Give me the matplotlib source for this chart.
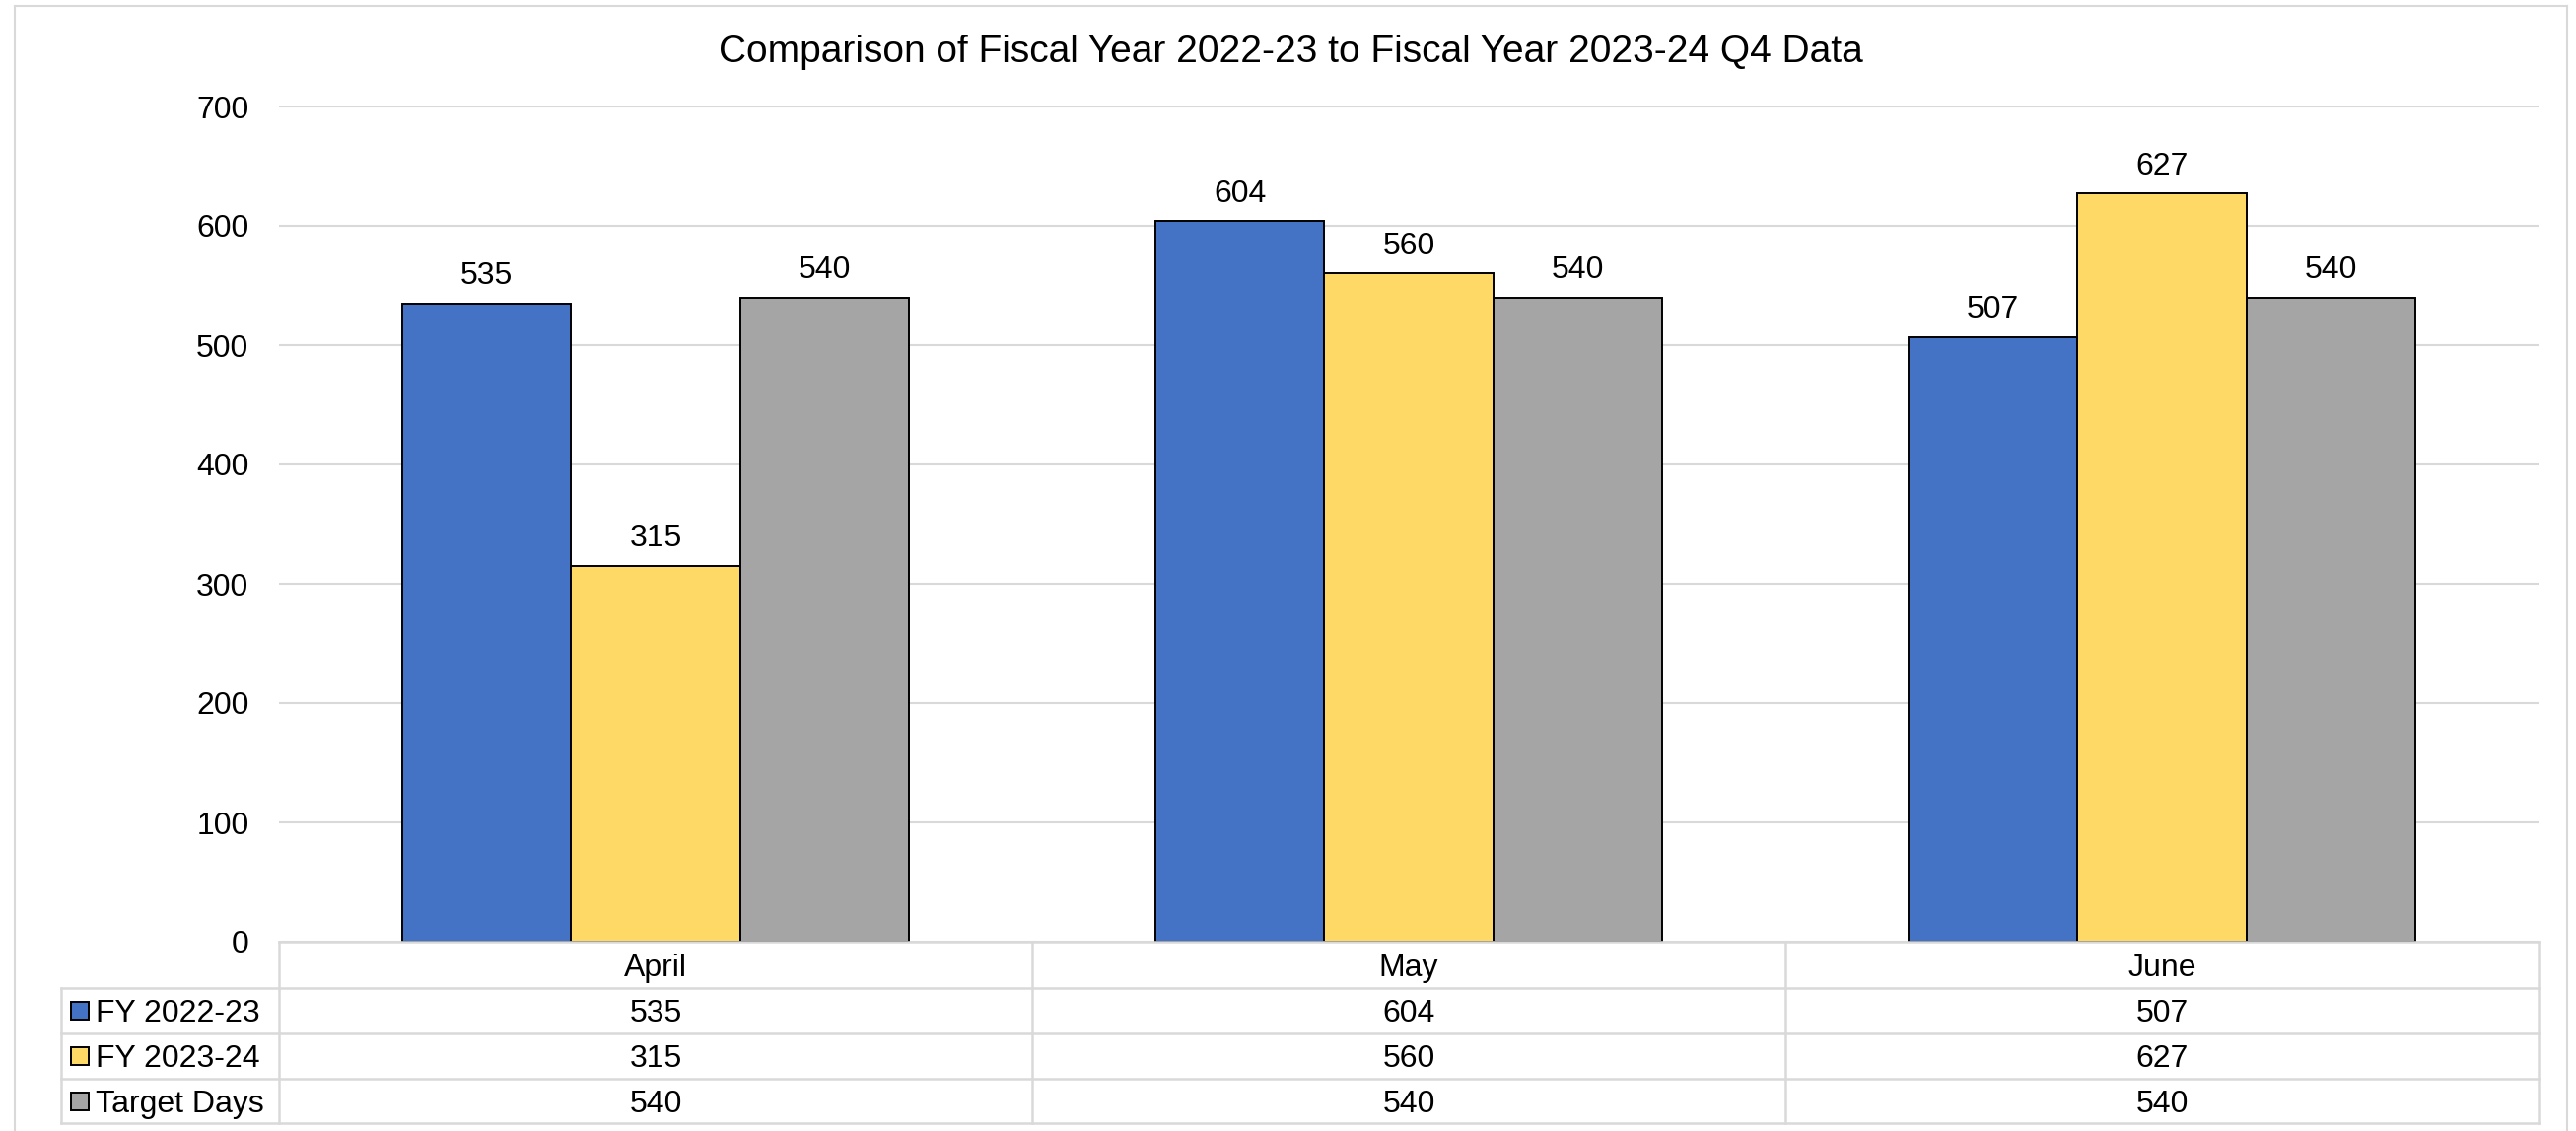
import numpy as np
import matplotlib
matplotlib.use("Agg")
import matplotlib.pyplot as plt
from matplotlib.lines import Line2D
from matplotlib.patches import Rectangle
from matplotlib.transforms import blended_transform_factory

# Data
months = ["April", "May", "June"]
series_names = ["FY 2022-23", "FY 2023-24", "Target Days"]
fy_2022_23 = [535, 604, 507]
fy_2023_24 = [315, 560, 627]
target_days = [540, 540, 540]
colors = ["#4472C4", "#FFD966", "#A5A5A5"]

title = "Comparison of Fiscal Year 2022-23 to Fiscal Year 2023-24 Q4 Data"
y_ticks = [0, 100, 200, 300, 400, 500, 600, 700]

plt.rcParams["font.family"] = ["Liberation Sans", "DejaVu Sans"]

W, H = 2613, 1147
fig = plt.figure(figsize=(W / 100, H / 100), dpi=100)

def fx(x):
    return x / W

def fy(y):
    return 1 - y / H

grid_col = "#D9D9D9"
fs = 23

# Plot area
left, right, top, bottom = 283, 2575, 108, 955
ax = fig.add_axes([fx(left), fy(bottom), fx(right - left), (bottom - top) / H])

x = np.arange(len(months))
width = 0.224
all_series = [fy_2022_23, fy_2023_24, target_days]
for i, (vals, name, c) in enumerate(zip(all_series, series_names, colors)):
    bars = ax.bar(x + (i - 1) * width, vals, width, color=c, edgecolor="black",
                  linewidth=1.4, label=name, zorder=3)
    ax.bar_label(bars, padding=9, fontsize=fs)

ax.set_xlim(-0.5, len(months) - 0.5)
ax.set_ylim(0, 700)
ax.set_yticks(y_ticks)
ax.tick_params(axis="y", length=0, labelsize=fs, pad=22)
ax.set_xticks([])
ax.grid(axis="y", color=grid_col, linewidth=1.5, zorder=0)
for s in ax.spines.values():
    s.set_visible(False)

# Title
fig.text(fx(1309), fy(53), title, ha="center", va="center", fontsize=28)

# Outer chart frame (bottom edge falls off the canvas)
for xs, ys in [([15, 15], [6, 1147]), ([15, 2604], [6, 6]), ([2604, 2604], [6, 1147])]:
    fig.add_artist(Line2D([fx(v) for v in xs], [fy(v) for v in ys],
                          color=grid_col, linewidth=1.5))

# Data table under the axis
rows_y = [955, 1002, 1048, 1094, 1139]
col_x = [283, 1047, 1811, 2575]
leg_left = 62

def hline(x0, x1, y):
    fig.add_artist(Line2D([fx(x0), fx(x1)], [fy(y), fy(y)], color=grid_col, linewidth=1.8))

def vline(xp, y0, y1):
    fig.add_artist(Line2D([fx(xp), fx(xp)], [fy(y0), fy(y1)], color=grid_col, linewidth=1.8))

hline(col_x[0], col_x[-1], rows_y[0])
for yy in rows_y[1:]:
    hline(leg_left, col_x[-1], yy)
for xp in col_x:
    vline(xp, rows_y[0], rows_y[-1])
vline(leg_left, rows_y[1], rows_y[-1])

tr = blended_transform_factory(ax.transData, fig.transFigure)
hdr_y = (rows_y[0] + rows_y[1]) / 2
for i, m in enumerate(months):
    fig.text(i, fy(hdr_y), m, transform=tr, ha="center", va="center_baseline", fontsize=fs)

for r, (vals, name, c) in enumerate(zip(all_series, series_names, colors)):
    cy = (rows_y[r + 1] + rows_y[r + 2]) / 2
    for i, v in enumerate(vals):
        fig.text(i, fy(cy), str(v), transform=tr, ha="center", va="center_baseline", fontsize=fs)
    fig.add_artist(Rectangle((fx(72), fy(cy + 9)), fx(18), 18 / H, facecolor=c,
                             edgecolor="black", linewidth=1.4, transform=fig.transFigure))
    fig.text(fx(97), fy(cy), name, ha="left", va="center_baseline", fontsize=fs)

fig.savefig("out.png", dpi=100)
